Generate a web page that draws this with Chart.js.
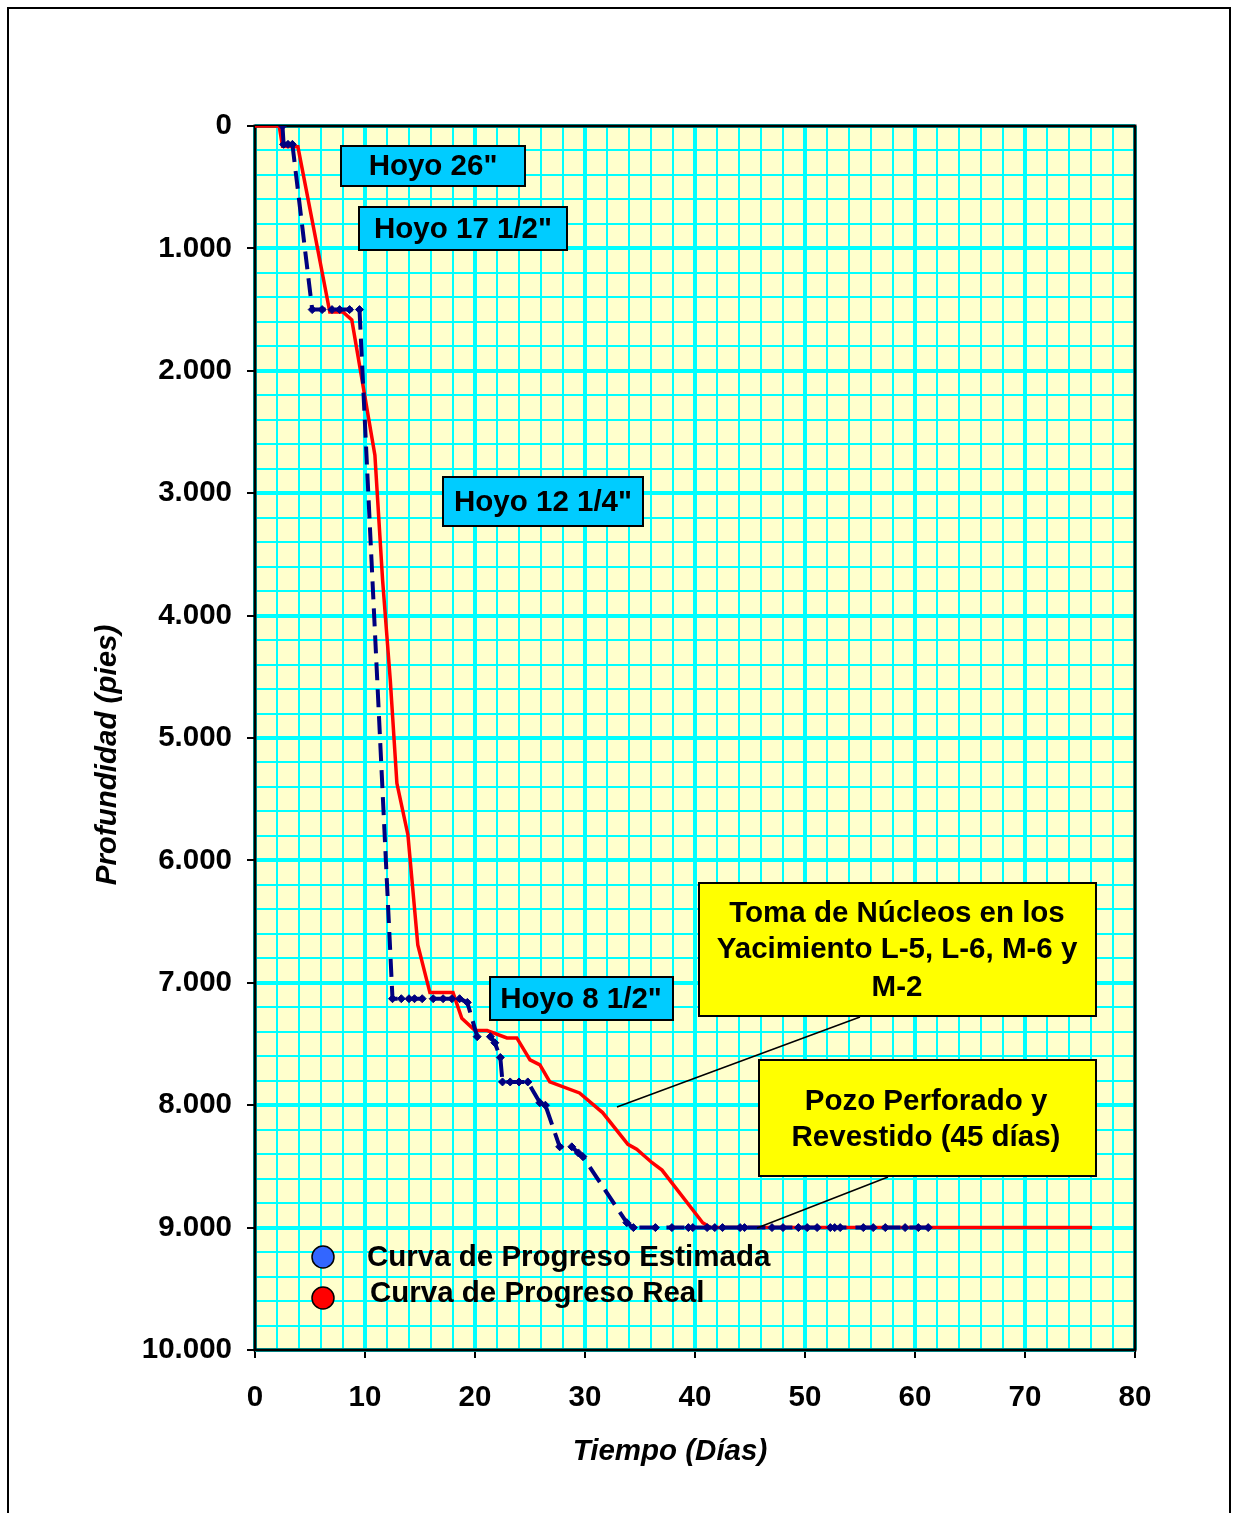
<!DOCTYPE html>
<html>
<head>
<meta charset="utf-8">
<script src="https://cdn.jsdelivr.net/npm/chart.js@4.4.1/dist/chart.umd.min.js"></script>
<style>
html,body{margin:0;padding:0;background:#ffffff;}
#wrap{width:1236px;height:1513px;position:relative;}
canvas{display:block;}
</style>
</head>
<body>
<div id="wrap"><canvas id="c" width="1236" height="1513"></canvas></div>
<script>
// ---- Data ----
const estDays  = [2.5, 2.6, 3.0, 3.4, 5.2, 6.1, 7.0, 7.7, 8.6, 9.5, 12.5, 13.3, 14.0, 14.5, 15.2, 16.2, 17.1, 17.9, 18.6, 19.3, 20.2, 21.4, 21.8, 22.3, 22.5, 23.2, 24.0, 24.8, 25.9, 26.4, 27.7, 28.8, 29.4, 29.8, 33.8, 34.4, 36.4, 37.9, 39.4, 39.8, 41.1, 41.8, 42.5, 44.1, 44.5, 47.0, 48.0, 49.4, 50.2, 51.1, 52.3, 52.7, 53.2, 55.3, 56.2, 57.3, 59.1, 60.3, 61.2];
const estDepth = [0, 150, 150, 150, 1500, 1500, 1500, 1500, 1500, 1500, 7130, 7130, 7130, 7130, 7130, 7130, 7130, 7130, 7130, 7160, 7440, 7440, 7490, 7610, 7810, 7810, 7810, 7810, 7980, 8000, 8340, 8340, 8390, 8420, 8960, 9000, 9000, 9000, 9000, 9000, 9000, 9000, 9000, 9000, 9000, 9000, 9000, 9000, 9000, 9000, 9000, 9000, 9000, 9000, 9000, 9000, 9000, 9000, 9000];

const realDays  = [0, 2.2, 2.5, 3.9, 4.7, 6.8, 8.0, 8.8, 10.9, 11.6, 12.3, 12.9, 13.9, 14.8, 15.9, 18.0, 18.8, 20.0, 21.1, 22.9, 23.8, 25.0, 25.9, 26.8, 29.5, 31.6, 33.9, 34.7, 36.1, 37.0, 40.7, 41.4, 76.1];
const realDepth = [0, 0, 165, 170, 540, 1520, 1520, 1585, 2690, 3710, 4530, 5370, 5790, 6690, 7080, 7080, 7290, 7390, 7390, 7450, 7450, 7630, 7670, 7810, 7900, 8060, 8320, 8360, 8470, 8530, 8960, 9000, 9000];

const xTickLabels = ['0', '10', '20', '30', '40', '50', '60', '70', '80'];
const yTickLabels = ['0', '1.000', '2.000', '3.000', '4.000', '5.000', '6.000', '7.000', '8.000', '9.000', '10.000'];

const seriesNames = ['Curva de Progreso Estimada', 'Curva de Progreso Real'];
const holeLabels = ['Hoyo 26"', 'Hoyo 17 1/2"', 'Hoyo 12 1/4"', 'Hoyo 8 1/2"'];
const noteCores = ['Toma de Núcleos en los', 'Yacimiento L-5, L-6, M-6 y', 'M-2'];
const noteDone = ['Pozo Perforado y', 'Revestido (45 días)'];
const xTitle = 'Tiempo (Días)';
const yTitle = 'Profundidad (pies)';

// ---- Styling ----
const FONT = "Arial, 'Liberation Sans', sans-serif";
const FS = 29.5;
Chart.defaults.font.family = FONT;
Chart.defaults.color = '#000';

const estPoints = estDays.map((d, i) => ({x: d, y: estDepth[i]}));
const realPoints = realDays.map((d, i) => ({x: d, y: realDepth[i]}));

function drawBox(ctx, x1, y1, x2, y2, fill, lines, cx, ys) {
  ctx.save();
  ctx.fillStyle = fill;
  ctx.fillRect(x1, y1, x2 - x1, y2 - y1);
  ctx.strokeStyle = '#000';
  ctx.lineWidth = 2;
  ctx.strokeRect(x1, y1, x2 - x1, y2 - y1);
  ctx.fillStyle = '#000';
  ctx.font = 'bold ' + FS + 'px ' + FONT;
  ctx.textAlign = 'center';
  ctx.textBaseline = 'middle';
  lines.forEach((t, i) => ctx.fillText(t, cx, ys[i]));
  ctx.restore();
}

const decor = {
  id: 'decor',
  beforeDraw(chart) {
    const {ctx, chartArea: a} = chart;
    ctx.save();
    ctx.fillStyle = '#ffffff';
    ctx.fillRect(0, 0, chart.width, chart.height);
    ctx.fillStyle = '#FFFFCC';
    ctx.fillRect(a.left, a.top, a.right - a.left, a.bottom - a.top);
    ctx.strokeStyle = '#000';
    ctx.lineWidth = 2;
    ctx.strokeRect(8, 8, 1222, 1560);
    ctx.restore();
  },
  beforeDatasetsDraw(chart) {
    const {ctx, chartArea: a} = chart;
    ctx.save();
    ctx.strokeStyle = '#000';
    ctx.lineWidth = 3;
    ctx.strokeRect(a.left, a.top, a.right - a.left, a.bottom - a.top);
    ctx.restore();
  },
  afterDatasetsDraw(chart) {
    const {ctx} = chart;
    // leader lines
    ctx.save();
    ctx.strokeStyle = '#000';
    ctx.lineWidth = 1.5;
    ctx.beginPath();
    ctx.moveTo(860, 1017); ctx.lineTo(617, 1107);
    ctx.moveTo(888, 1177); ctx.lineTo(757, 1228);
    ctx.stroke();
    ctx.restore();
    // hole size boxes
    drawBox(ctx, 341, 146, 525, 186, '#00CCFF', [holeLabels[0]], 433, [167]);
    drawBox(ctx, 359, 207, 567, 250, '#00CCFF', [holeLabels[1]], 463, [230]);
    drawBox(ctx, 443, 477, 643, 526, '#00CCFF', [holeLabels[2]], 543, [503]);
    drawBox(ctx, 490, 977, 673, 1020, '#00CCFF', [holeLabels[3]], 581, [1000]);
    // notes
    drawBox(ctx, 699, 883, 1096, 1016, '#FFFF00', noteCores, 897, [914, 950, 988]);
    drawBox(ctx, 759, 1060, 1096, 1176, '#FFFF00', noteDone, 926, [1102, 1138]);
    // legend
    ctx.save();
    ctx.lineWidth = 1.5;
    ctx.strokeStyle = '#000';
    ctx.fillStyle = '#3366FF';
    ctx.beginPath(); ctx.arc(323, 1257, 11, 0, Math.PI * 2); ctx.fill(); ctx.stroke();
    ctx.fillStyle = '#FF0000';
    ctx.beginPath(); ctx.arc(323, 1298, 11, 0, Math.PI * 2); ctx.fill(); ctx.stroke();
    ctx.fillStyle = '#000';
    ctx.font = 'bold ' + FS + 'px ' + FONT;
    ctx.textAlign = 'left';
    ctx.textBaseline = 'middle';
    ctx.fillText(seriesNames[0], 367, 1258);
    ctx.fillText(seriesNames[1], 370, 1294);
    ctx.restore();
  },
  afterDraw(chart) {
    const {ctx} = chart;
    ctx.save();
    ctx.fillStyle = '#000';
    ctx.font = 'italic bold ' + FS + 'px ' + FONT;
    ctx.textAlign = 'center';
    ctx.textBaseline = 'middle';
    ctx.fillText(xTitle, 670, 1452);
    ctx.translate(108, 755);
    ctx.rotate(-Math.PI / 2);
    ctx.fillText(yTitle, 0, 0);
    ctx.restore();
  }
};

const gridColor = '#00FFFF';

new Chart(document.getElementById('c'), {
  type: 'line',
  data: {
    datasets: [
      {
        label: seriesNames[0],
        data: estPoints,
        borderColor: '#000080',
        backgroundColor: '#000080',
        borderWidth: 4,
        borderDash: [18, 9],
        pointStyle: 'rectRot',
        pointRadius: 4,
        pointBorderWidth: 1,
        pointBackgroundColor: '#000080',
        pointBorderColor: '#000080',
        fill: false,
        tension: 0
      },
      {
        label: seriesNames[1],
        data: realPoints,
        borderColor: '#FF0000',
        backgroundColor: '#FF0000',
        borderWidth: 3.5,
        pointRadius: 0,
        fill: false,
        tension: 0
      }
    ]
  },
  options: {
    responsive: false,
    animation: false,
    devicePixelRatio: 1,
    layout: {padding: {top: 126, right: 101, left: 0, bottom: 0}},
    plugins: {legend: {display: false}, tooltip: {enabled: false}},
    scales: {
      x: {
        type: 'linear',
        min: 0, max: 80,
        afterFit(scale) { scale.height = 163; },
        border: {display: false},
        grid: {
          color: gridColor,
          lineWidth: c => (c.tick && c.tick.value % 10 === 0) ? 4 : 2,
          tickColor: c => (c.tick && c.tick.value % 10 === 0) ? '#000' : 'rgba(0,0,0,0)',
          tickWidth: 2,
          tickLength: 8
        },
        ticks: {
          stepSize: 2,
          autoSkip: false,
          maxRotation: 0,
          padding: 22,
          font: {size: FS, weight: 'bold'},
          color: '#000',
          callback: v => (v % 10 === 0) ? xTickLabels[v / 10] : ''
        }
      },
      y: {
        type: 'linear',
        reverse: true,
        min: 0, max: 10000,
        afterFit(scale) { scale.width = 255; },
        border: {display: false},
        grid: {
          color: gridColor,
          lineWidth: c => (c.tick && c.tick.value % 1000 === 0) ? 4 : 2,
          tickColor: c => (c.tick && c.tick.value % 1000 === 0) ? '#000' : 'rgba(0,0,0,0)',
          tickWidth: 2,
          tickLength: 8
        },
        ticks: {
          stepSize: 200,
          autoSkip: false,
          padding: 15,
          font: {size: FS, weight: 'bold'},
          color: '#000',
          callback: v => (v % 1000 === 0) ? yTickLabels[v / 1000] : ''
        }
      }
    }
  },
  plugins: [decor]
});
</script>
</body>
</html>
